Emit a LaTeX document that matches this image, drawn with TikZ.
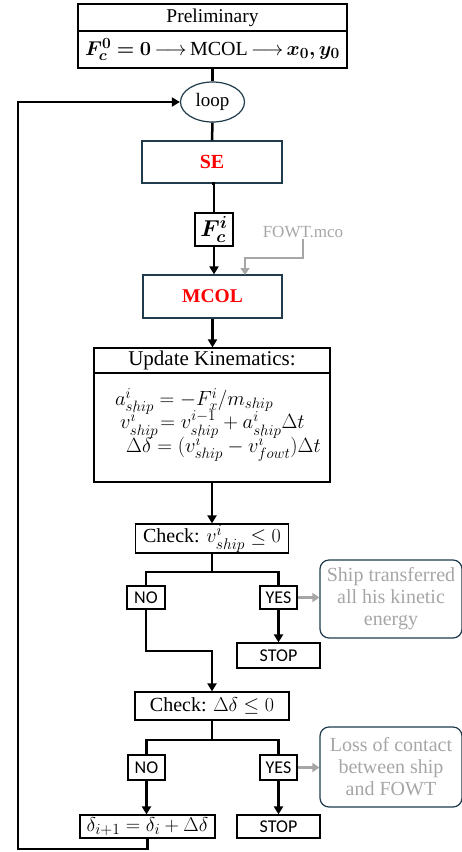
\RequirePackage{fix-cm}
\documentclass[tikz,border=0pt]{standalone}
\usepackage{fontspec}
\usepackage{amsmath}
\usepackage{bm}
\setmainfont{Liberation Serif}
\newfontfamily\calib{Carlito}
\DeclareMathSizes{18}{18}{13.5}{10}
\DeclareMathSizes{19}{19}{14}{10.5}
\DeclareMathSizes{20}{20}{15.5}{11.5}
\DeclareMathSizes{20.5}{20.5}{15}{11}
\DeclareMathSizes{21}{21}{16}{12}
\DeclareMathSizes{23}{23}{17.5}{13}
\newcommand\tightlines{\lineskiplimit=-30pt\relax\lineskip=0pt\relax}
\usetikzlibrary{arrows.meta,shapes.geometric,calc}
\definecolor{dteal}{HTML}{1F3B4C}
\definecolor{gtxt}{HTML}{A6A6A6}
\definecolor{gline}{HTML}{A6A6A6}
\tikzset{
  bx/.style={draw=black,line width=1.2pt,inner sep=0pt,align=center},
  tbx/.style={draw=dteal,line width=1.2pt,inner sep=0pt,align=center},
  call/.style={draw=dteal,line width=1.2pt,rounded corners=9pt,inner sep=0pt,align=center,text=gtxt,font=\fontsize{20}{22}\selectfont},
  lab/.style={bx,font=\calib\fontsize{18}{20}\selectfont},
  ln/.style={line width=2.5pt},
  arr/.style={line width=2.5pt,-{Triangle[length=8pt,width=9pt]}},
  garr/.style={line width=2.5pt,draw=gline,-{Triangle[length=7pt,width=9pt]}},
}
\begin{document}
\begin{tikzpicture}[x=1pt,y=-1pt]
\useasboundingbox (0,0) rectangle (462,852);
% Preliminary
\node[bx,minimum width=269pt,minimum height=27pt,font=\fontsize{19.5}{21}\selectfont] (pre) at (212.5,17.5) {Preliminary};
\node[bx,minimum width=269pt,minimum height=37pt,font=\fontsize{20}{21}\selectfont] (pre2) at (212.5,49.5)
  {$\bm{F_c^0=0}\,{\longrightarrow}\,\text{MCOL}\,{\longrightarrow}\,\bm{x_0,y_0}$};
% loop
\node[ellipse,draw=dteal,line width=1.2pt,minimum width=64pt,minimum height=40pt,inner sep=0pt,font=\fontsize{19}{21}\selectfont] (loop) at (212.5,102) {loop};
% SE
\node[tbx,minimum width=140pt,minimum height=42pt,text=red,font=\bfseries\fontsize{20}{22}\selectfont] (se) at (212,162) {SE};
% F
\node[bx,minimum width=38pt,minimum height=33pt,font=\fontsize{23}{24}\selectfont] (f) at (214,229.5) {$\bm{F_c^i}$};
% MCOL
\node[tbx,minimum width=139pt,minimum height=43pt,text=red,font=\bfseries\fontsize{19.5}{22}\selectfont] (mcol) at (212.5,296.5) {MCOL};
% FOWT.mco
\node[text=gtxt,font=\fontsize{17}{19}\selectfont,inner sep=1pt] (fowt) at (303,232) {FOWT.mco};
\coordinate (g1) at (303,258);
\coordinate (g2) at (245,275);
% Update
\node[bx,minimum width=236pt,minimum height=25pt,font=\fontsize{21}{22}\selectfont] (upd) at (212,360.5) {Update Kinematics:};
\node[bx,minimum width=236pt,minimum height=109pt] (updb) at (212,427.5) {};
\node[anchor=north west,inner sep=0pt,align=left,font={\fontsize{20.5}{23.5}\selectfont\tightlines}] (eqs) at (115,388)
  {$a^i_{ship}=-F^i_x/m_{ship}$\\
   \hspace*{5pt}$v^i_{ship}\!=v^{i-1}_{ship}+a^i_{ship}\Delta t$\\
   \hspace*{11pt}$\Delta\delta=(v^i_{ship}-v^i_{fowt})\Delta t$};
% Check 1
\node[bx,minimum width=153pt,minimum height=29pt,font=\fontsize{20}{21}\selectfont] (c1) at (212,538.5) {Check: $v^i_{ship}\le 0$};
\coordinate (s1) at (212,572);
\node[lab,minimum width=38pt,minimum height=23pt] (no1) at (146,597.5) {NO};
\node[lab,minimum width=37pt,minimum height=23pt] (yes1) at (278.5,597.5) {YES};
\node[lab,minimum width=83pt,minimum height=25pt] (stop1) at (278.5,655.5) {STOP};
\node[call,minimum width=142pt,minimum height=78pt] (cl1) at (391,599) {Ship transferred\\all his kinetic\\energy};
\coordinate (j1) at (212,651);
% Check 2
\node[bx,minimum width=154pt,minimum height=28pt,font=\fontsize{20}{21}\selectfont] (c2) at (212,706) {Check: $\Delta\delta\le 0$};
\coordinate (s2) at (212,740);
\node[lab,minimum width=37pt,minimum height=25pt] (no2) at (146.5,767.5) {NO};
\node[lab,minimum width=37pt,minimum height=25pt] (yes2) at (278.5,767.5) {YES};
\node[call,minimum width=142pt,minimum height=80pt] (cl2) at (391,767) {Loss of contact\\between ship\\and FOWT};
\node[bx,minimum width=135pt,minimum height=23pt,font=\fontsize{20}{21}\selectfont] (dl) at (147.5,826.5) {$\delta_{i+1}=\delta_i+\Delta\delta$};
\node[lab,minimum width=83pt,minimum height=23pt] (stop2) at (278.5,826.5) {STOP};
\coordinate (r1) at (18,849);
% connectors
\draw[ln] (pre2.south) -- (loop.north);
\draw[ln] (loop.south) -- (se.north);
\draw[ln] (se.south) -- (f.north |- se.south) -- (f.north);
\draw[arr] (f.south) -- (f.south |- mcol.north);
\draw[garr] (fowt.south) -- (g1) -| (g2);
\draw[arr] (mcol.south) -- (mcol.south |- upd.north);
\draw[arr] (updb.south) -- (c1.north);
\draw[ln] (c1.south) -- (s1);
\draw[ln] (no1.north) |- (s1) -| (yes1.north);
\draw[arr] (yes1.south) -- (yes1.south |- stop1.north);
\draw[garr] (yes1.east) -- (cl1.west |- yes1.east);
\draw[arr] (no1.south) |- (j1) -- (c2.north);
\draw[ln] (c2.south) -- (s2);
\draw[ln] (no2.north) |- (s2) -| (yes2.north);
\draw[arr] (no2.south) -- (no2.south |- dl.north);
\draw[arr] (yes2.south) -- (yes2.south |- stop2.north);
\draw[garr] (yes2.east) -- (cl2.west |- yes2.east);
\draw[arr] (dl.south) |- (r1) |- (loop.west);
\end{tikzpicture}
\end{document}
